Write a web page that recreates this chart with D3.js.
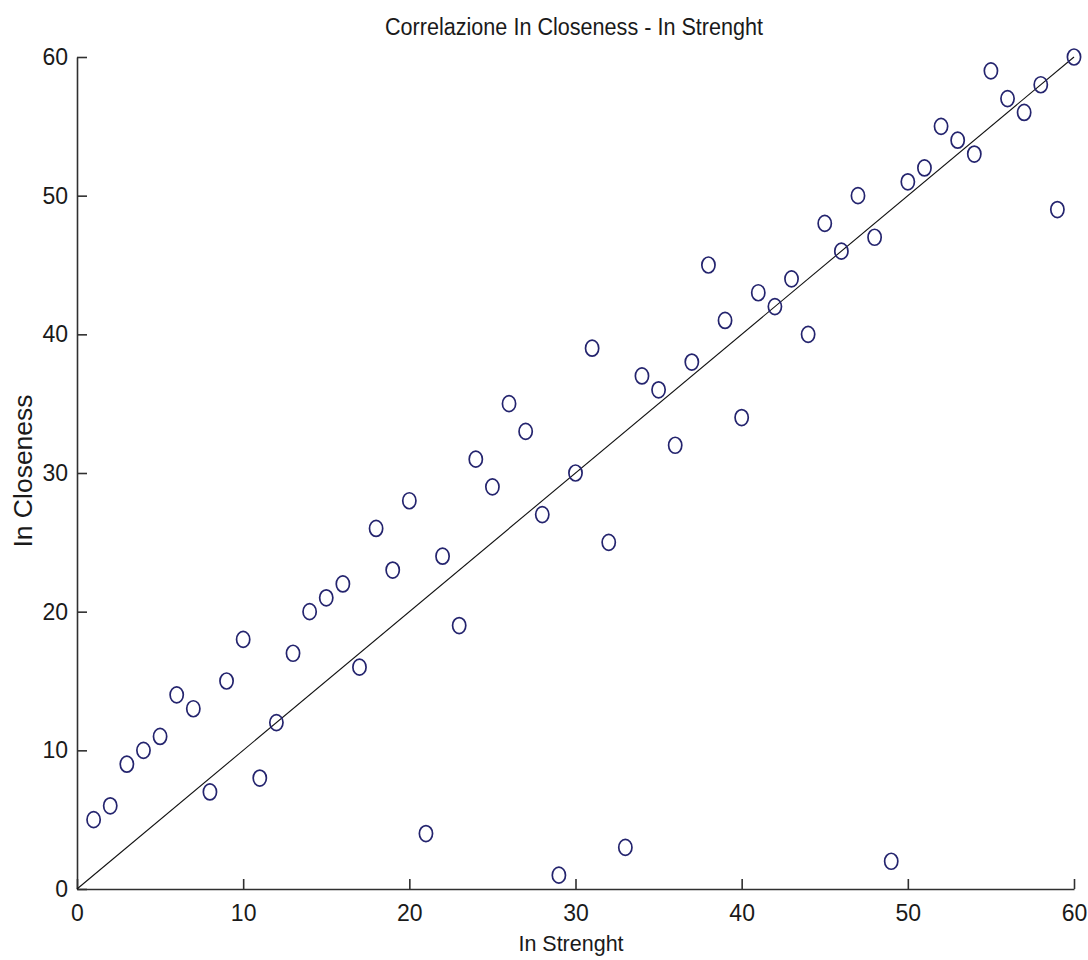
<!DOCTYPE html>
<html>
<head>
<meta charset="utf-8">
<script src="https://cdn.jsdelivr.net/npm/d3@7"></script>
<style>
  html, body { margin: 0; padding: 0; background: #fff; }
  svg { display: block; }
  text { font-family: "Liberation Sans", Arial, sans-serif; fill: #1a1a1a; }
</style>
</head>
<body>
<svg id="chart" width="1088" height="960"></svg>
<script>
// Rank of each node by in-strength (x) and its rank by in-closeness (y)
const inStrength = [1,2,3,4,5,6,7,8,9,10,11,12,13,14,15,16,17,18,19,20,
                    21,22,23,24,25,26,27,28,29,30,31,32,33,34,35,36,37,38,39,40,
                    41,42,43,44,45,46,47,48,49,50,51,52,53,54,55,56,57,58,59,60];
const inCloseness = [5,6,9,10,11,14,13,7,15,18,8,12,17,20,21,22,16,26,23,28,
                     4,24,19,31,29,35,33,27,1,30,39,25,3,37,36,32,38,45,41,34,
                     43,42,44,40,48,46,50,47,2,51,52,55,54,53,59,57,56,58,49,60];
// Reference line y = x
const refLine = [0, 60];
const xTicks = [0, 10, 20, 30, 40, 50, 60];
const yTicks = [0, 10, 20, 30, 40, 50, 60];

const titleText = "Correlazione In Closeness - In Strenght";
const xLabel = "In Strenght";
const yLabel = "In Closeness";

const svg = d3.select("#chart");
const plot = { left: 77, right: 1074, top: 57, bottom: 889 };

const x = d3.scaleLinear().domain([0, 60]).range([plot.left, plot.right]);
const y = d3.scaleLinear().domain([0, 60]).range([plot.bottom, plot.top]);

// Axes with inward ticks, labels placed outside
const xAxis = d3.axisBottom(x).tickValues(xTicks).tickSizeInner(-10).tickSizeOuter(0).tickPadding(16);
const yAxis = d3.axisLeft(y).tickValues(yTicks).tickSizeInner(-10).tickSizeOuter(0).tickPadding(9);

const gx = svg.append("g").attr("transform", `translate(0,${plot.bottom})`).call(xAxis);
const gy = svg.append("g").attr("transform", `translate(${plot.left},0)`).call(yAxis);

[gx, gy].forEach(g => {
  g.select(".domain").attr("stroke", "#303030").attr("stroke-width", 1.6);
  g.selectAll(".tick line").attr("stroke", "#303030").attr("stroke-width", 1.6);
  g.selectAll(".tick text")
    .style("font-family", '"Liberation Sans", Arial, sans-serif')
    .style("font-size", "23px")
    .attr("fill", "#1a1a1a");
});

// Diagonal reference line
svg.append("line")
  .attr("x1", x(refLine[0])).attr("y1", y(refLine[0]))
  .attr("x2", x(refLine[1])).attr("y2", y(refLine[1]))
  .attr("stroke", "#111").attr("stroke-width", 1.1);

// Scatter markers
svg.append("g")
  .selectAll("ellipse")
  .data(inStrength.map((v, i) => ({ s: v, c: inCloseness[i] })))
  .join("ellipse")
  .attr("cx", d => x(d.s))
  .attr("cy", d => y(d.c))
  .attr("rx", 6.6)
  .attr("ry", 8)
  .attr("fill", "none")
  .attr("stroke", "#24246e")
  .attr("stroke-width", 1.7);

// Title and axis labels
svg.append("text")
  .attr("transform", "translate(574,35) scale(1,1.14)")
  .attr("text-anchor", "middle")
  .style("font-size", "21.6px")
  .text(titleText);

svg.append("text")
  .attr("x", 571).attr("y", 951)
  .attr("text-anchor", "middle")
  .style("font-size", "21.5px")
  .text(xLabel);

svg.append("text")
  .attr("transform", "translate(32,471) rotate(-90)")
  .attr("text-anchor", "middle")
  .style("font-size", "26.5px")
  .text(yLabel);
</script>
</body>
</html>
